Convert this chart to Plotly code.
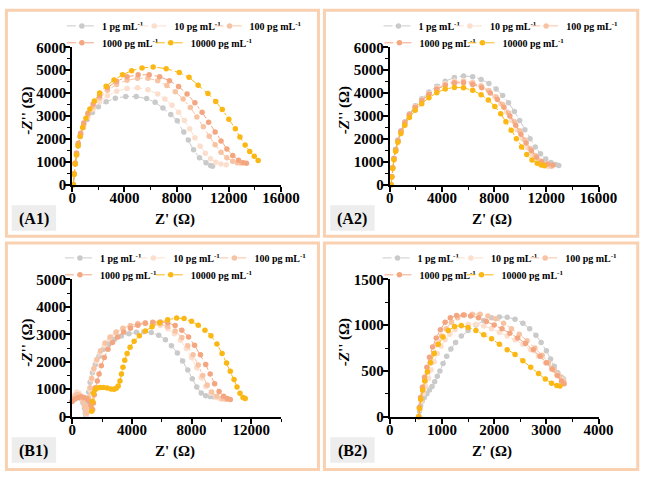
import plotly.graph_objects as go

W, H = 661, 481

SERIES_LABELS = ["1 pg mL<sup>-1</sup>", "10 pg mL<sup>-1</sup>", "100 pg mL<sup>-1</sup>",
                 "1000 pg mL<sup>-1</sup>", "10000 pg mL<sup>-1</sup>"]
SERIES_COLORS = ["#cacaca", "#fcdecd", "#f8c3a3", "#f4a680", "#fbb714"]

# ---------------- Panel A1 ----------------
A1_1_X = [80, 140, 220, 320, 450, 620, 850, 1150, 1550, 2000, 2600, 3300, 4100, 4900, 5700, 6350, 6950, 7550, 8050, 8550, 8900, 9300, 9750, 10250, 10600, 10750]
A1_1_Y = [0, 450, 900, 1300, 1700, 2100, 2500, 2850, 3150, 3400, 3620, 3780, 3850, 3850, 3760, 3600, 3350, 3070, 2790, 2300, 1950, 1520, 1180, 960, 840, 800]
A1_10_X = [80, 140, 225, 330, 460, 640, 880, 1200, 1600, 2100, 2700, 3400, 4200, 5000, 5800, 6550, 7100, 7650, 8150, 8600, 9000, 9400, 9800, 10200, 10600, 11000, 11400, 11800]
A1_10_Y = [0, 450, 900, 1320, 1730, 2150, 2560, 2950, 3300, 3620, 3880, 4080, 4200, 4230, 4150, 3960, 3740, 3470, 3160, 2800, 2440, 2050, 1680, 1370, 1130, 980, 900, 870]
A1_100_X = [80, 140, 225, 330, 460, 640, 880, 1200, 1600, 2100, 2700, 3400, 4200, 5000, 5800, 6550, 7250, 7900, 8500, 9050, 9550, 10050, 10500, 10950, 11400, 11850, 12300, 12650, 12900]
A1_100_Y = [0, 460, 920, 1350, 1770, 2200, 2630, 3050, 3430, 3800, 4120, 4380, 4560, 4650, 4650, 4540, 4330, 4060, 3740, 3370, 2960, 2530, 2110, 1740, 1410, 1170, 1020, 960, 950]
A1_1000_X = [80, 140, 225, 330, 460, 640, 880, 1200, 1600, 2100, 2700, 3400, 4200, 5050, 5900, 6700, 7450, 8150, 8800, 9400, 9950, 10450, 10950, 11400, 11850, 12300, 12750, 13100, 13350]
A1_1000_Y = [0, 470, 940, 1380, 1810, 2250, 2690, 3120, 3520, 3900, 4240, 4520, 4710, 4800, 4800, 4720, 4540, 4290, 3960, 3580, 3160, 2730, 2300, 1910, 1560, 1270, 1060, 960, 930]
A1_10000_X = [80, 150, 230, 330, 450, 600, 800, 1050, 1350, 1700, 2100, 2600, 3200, 3850, 4550, 5350, 6200, 7200, 8200, 8950, 9650, 10400, 11000, 11500, 12000, 12500, 12850, 13250, 13600, 13950, 14250]
A1_10000_Y = [0, 450, 900, 1300, 1700, 2100, 2500, 2900, 3300, 3650, 4000, 4300, 4570, 4800, 4980, 5100, 5140, 5070, 4900, 4690, 4340, 3980, 3630, 3280, 2860, 2440, 2080, 1730, 1450, 1240, 1050]

# ---------------- Panel A2 ----------------
A2_1_X = [100, 150, 220, 320, 450, 620, 850, 1150, 1500, 1950, 2450, 3000, 3600, 4250, 4950, 5650, 6350, 7000, 7600, 8150, 8650, 9100, 9550, 9950, 10350, 10750, 11150, 11550, 11950, 12350, 12700, 12950]
A2_1_Y = [0, 350, 750, 1150, 1550, 1950, 2350, 2750, 3100, 3450, 3750, 4050, 4300, 4520, 4680, 4750, 4720, 4600, 4420, 4180, 3900, 3580, 3200, 2800, 2400, 2000, 1650, 1350, 1120, 970, 880, 840]
A2_10_X = [100, 150, 220, 320, 450, 620, 850, 1150, 1500, 1950, 2450, 3000, 3600, 4250, 4950, 5650, 6350, 7000, 7550, 8050, 8500, 8950, 9350, 9750, 10150, 10550, 10950, 11350, 11750, 12150]
A2_10_Y = [0, 340, 730, 1120, 1500, 1900, 2300, 2700, 3050, 3400, 3700, 3980, 4220, 4420, 4530, 4550, 4480, 4330, 4120, 3850, 3540, 3180, 2800, 2400, 2000, 1620, 1300, 1050, 880, 790]
A2_100_X = [100, 150, 220, 320, 450, 620, 850, 1150, 1500, 1950, 2450, 3000, 3600, 4250, 4950, 5650, 6350, 7000, 7600, 8150, 8650, 9100, 9550, 9950, 10350, 10750, 11150, 11550, 11950, 12400]
A2_100_Y = [0, 340, 730, 1120, 1500, 1900, 2300, 2680, 3030, 3370, 3670, 3950, 4180, 4370, 4480, 4500, 4440, 4300, 4100, 3830, 3500, 3130, 2750, 2350, 1950, 1580, 1270, 1030, 880, 800]
A2_1000_X = [100, 150, 220, 320, 450, 620, 850, 1150, 1500, 1950, 2450, 3000, 3600, 4250, 4950, 5650, 6350, 7050, 7700, 8250, 8750, 9200, 9650, 10050, 10450, 10850, 11250, 11650, 12100, 12500]
A2_1000_Y = [0, 340, 740, 1140, 1520, 1920, 2320, 2700, 3050, 3380, 3680, 3950, 4170, 4340, 4440, 4450, 4380, 4230, 4000, 3720, 3380, 3000, 2600, 2200, 1820, 1480, 1200, 1000, 900, 860]
A2_10000_X = [100, 150, 220, 320, 450, 620, 850, 1150, 1500, 1950, 2450, 3000, 3600, 4250, 4950, 5650, 6350, 7000, 7550, 8050, 8500, 8900, 9300, 9700, 10100, 10500, 10900, 11300, 11600, 11850]
A2_10000_Y = [0, 330, 710, 1090, 1460, 1850, 2230, 2590, 2930, 3250, 3540, 3800, 4020, 4180, 4250, 4230, 4120, 3930, 3700, 3420, 3100, 2750, 2380, 2000, 1640, 1320, 1080, 930, 860, 830]

# ---------------- Panel B1 ----------------
B1_1_X = [0, 150, 300, 450, 600, 720, 820, 880, 920, 960, 1020, 1100, 1200, 1350, 1550, 1800, 2100, 2450, 2850, 3300, 3800, 4300, 4800, 5300, 5800, 6250, 6650, 7050, 7400, 7750, 8050, 8350, 8650, 8950, 9250, 9450]
B1_1_Y = [560, 680, 760, 740, 650, 500, 300, 120, 40, 200, 550, 900, 1250, 1600, 1900, 2200, 2450, 2650, 2820, 2940, 3020, 3070, 3090, 3060, 2960, 2800, 2580, 2320, 2030, 1700, 1380, 1080, 860, 760, 730, 720]
B1_10_X = [0, 150, 300, 450, 600, 720, 820, 900, 960, 1010, 1080, 1170, 1280, 1430, 1620, 1850, 2150, 2500, 2900, 3400, 3900, 4400, 4900, 5400, 5900, 6400, 6850, 7250, 7650, 8000, 8350, 8650, 8950, 9300, 9650, 9950, 10200]
B1_10_Y = [600, 780, 900, 860, 760, 600, 380, 180, 90, 300, 650, 1000, 1350, 1700, 2020, 2320, 2600, 2850, 3050, 3200, 3300, 3360, 3390, 3380, 3320, 3200, 3020, 2780, 2480, 2150, 1780, 1420, 1100, 850, 700, 640, 620]
B1_100_X = [0, 150, 300, 450, 600, 730, 830, 910, 970, 1030, 1100, 1190, 1300, 1450, 1650, 1900, 2200, 2550, 2950, 3400, 3900, 4400, 4900, 5400, 5900, 6400, 6900, 7350, 7750, 8100, 8450, 8750, 9050, 9350, 9700, 10050, 10350]
B1_100_Y = [560, 700, 800, 790, 700, 560, 380, 200, 120, 350, 700, 1050, 1400, 1750, 2080, 2400, 2680, 2900, 3080, 3220, 3320, 3390, 3420, 3420, 3380, 3280, 3120, 2880, 2580, 2250, 1880, 1500, 1150, 900, 740, 660, 630]
B1_1000_X = [0, 200, 400, 600, 800, 1000, 1150, 1250, 1320, 1370, 1420, 1480, 1560, 1680, 1800, 1950, 2150, 2400, 2700, 3050, 3450, 3900, 4400, 4900, 5400, 5900, 6400, 6900, 7350, 7800, 8200, 8600, 8950, 9250, 9550, 9850, 10150, 10400, 10600]
B1_1000_Y = [560, 640, 700, 720, 700, 640, 560, 420, 280, 250, 500, 800, 1050, 1300, 1550, 1850, 2150, 2450, 2700, 2900, 3080, 3220, 3330, 3400, 3440, 3450, 3420, 3320, 3150, 2900, 2600, 2250, 1900, 1550, 1200, 920, 740, 660, 620]
B1_10000_X = [1300, 1360, 1420, 1520, 1680, 1880, 2100, 2350, 2600, 2800, 2950, 3080, 3200, 3300, 3400, 3520, 3680, 3880, 4150, 4500, 4900, 5350, 5850, 6400, 7000, 7500, 8000, 8450, 8900, 9300, 9700, 10050, 10350, 10600, 10850, 11050, 11250, 11450, 11600]
B1_10000_Y = [200, 550, 850, 980, 1040, 1060, 1060, 1040, 1010, 1000, 1030, 1120, 1300, 1550, 1800, 2050, 2300, 2530, 2750, 2950, 3120, 3270, 3420, 3530, 3590, 3570, 3470, 3330, 3150, 2950, 2650, 2300, 1950, 1650, 1350, 1080, 850, 700, 660]

# ---------------- Panel B2 ----------------
B2_1_X = [560, 570, 590, 620, 660, 710, 760, 810, 860, 910, 960, 1020, 1090, 1170, 1260, 1370, 1500, 1650, 1800, 1950, 2100, 2250, 2400, 2550, 2680, 2800, 2900, 3000, 3080, 3150, 3220, 3290, 3330]
B2_1_Y = [0, 60, 120, 170, 210, 250, 290, 330, 380, 440, 500, 580, 660, 740, 810, 880, 940, 1000, 1050, 1080, 1090, 1085, 1065, 1020, 960, 890, 810, 720, 630, 550, 480, 430, 410]
B2_10_X = [560, 575, 600, 640, 690, 740, 790, 850, 910, 980, 1060, 1150, 1250, 1370, 1500, 1650, 1800, 1950, 2100, 2250, 2400, 2550, 2700, 2850, 2980, 3100, 3200, 3290, 3330]
B2_10_Y = [0, 80, 170, 250, 330, 420, 510, 600, 690, 770, 840, 900, 950, 990, 1010, 1010, 990, 960, 920, 880, 840, 790, 730, 660, 590, 520, 460, 410, 395]
B2_100_X = [555, 570, 595, 630, 675, 725, 780, 840, 910, 990, 1080, 1180, 1300, 1430, 1580, 1730, 1880, 2030, 2180, 2330, 2480, 2630, 2780, 2920, 3040, 3150, 3250, 3330]
B2_100_Y = [0, 90, 190, 290, 390, 490, 590, 690, 790, 880, 960, 1030, 1080, 1110, 1120, 1120, 1100, 1070, 1020, 960, 900, 830, 750, 670, 590, 510, 440, 385]
B2_1000_X = [550, 565, 590, 625, 665, 710, 760, 820, 890, 970, 1060, 1160, 1280, 1410, 1550, 1700, 1850, 2000, 2150, 2300, 2450, 2600, 2750, 2880, 3000, 3110, 3210, 3290, 3340]
B2_1000_Y = [0, 100, 210, 320, 430, 540, 650, 760, 860, 950, 1030, 1080, 1105, 1110, 1100, 1080, 1040, 1000, 960, 910, 860, 800, 730, 660, 590, 520, 450, 390, 360]
B2_10000_X = [555, 570, 595, 630, 670, 720, 780, 850, 930, 1020, 1120, 1240, 1370, 1500, 1650, 1800, 1950, 2100, 2250, 2400, 2550, 2700, 2850, 2980, 3100, 3200, 3260]
B2_10000_Y = [0, 90, 190, 290, 390, 490, 590, 690, 790, 870, 940, 985, 995, 975, 940, 895, 850, 790, 730, 680, 610, 540, 470, 410, 365, 340, 335]

# axis ranges
A_X_RANGE = [0, 16000]
A_Y_RANGE = [0, 6000]
B1_X_RANGE = [0, 14000]
B1_Y_RANGE = [0, 5000]
B2_X_RANGE = [0, 4000]
B2_Y_RANGE = [0, 1500]

PANELS = [
    dict(name="A1", data=[(A1_1_X, A1_1_Y), (A1_10_X, A1_10_Y), (A1_100_X, A1_100_Y), (A1_1000_X, A1_1000_Y), (A1_10000_X, A1_10000_Y)],
         xr=A_X_RANGE, yr=A_Y_RANGE, xd=4000, yd=1000, ox=0, oy=0,
         leg_x=[100, 175, 253, 100, 192]),
    dict(name="A2", data=[(A2_1_X, A2_1_Y), (A2_10_X, A2_10_Y), (A2_100_X, A2_100_Y), (A2_1000_X, A2_1000_Y), (A2_10000_X, A2_10000_Y)],
         xr=A_X_RANGE, yr=A_Y_RANGE, xd=4000, yd=1000, ox=329, oy=0,
         leg_x=[98, 172, 251, 99, 185]),
    dict(name="B1", data=[(B1_1_X, B1_1_Y), (B1_10_X, B1_10_Y), (B1_100_X, B1_100_Y), (B1_1000_X, B1_1000_Y), (B1_10000_X, B1_10000_Y)],
         xr=B1_X_RANGE, yr=B1_Y_RANGE, xd=4000, yd=1000, ox=0, oy=240,
         leg_x=[98, 174, 258, 98, 192]),
    dict(name="B2", data=[(B2_1_X, B2_1_Y), (B2_10_X, B2_10_Y), (B2_100_X, B2_100_Y), (B2_1000_X, B2_1000_Y), (B2_10000_X, B2_10000_Y)],
         xr=B2_X_RANGE, yr=B2_Y_RANGE, xd=1000, yd=500, ox=329, oy=240,
         leg_x=[97, 173, 250, 99, 184]),
]
LEG_ROW_Y = [20.5, 20.5, 20.5, 38, 38]


def px(x):
    return x / W


def py(y):
    return 1 - y / H


FONT = "Liberation Serif"
LEG_Y_SHIFT = -2
fig = go.Figure()
layout = dict(width=W, height=H, margin=dict(l=0, r=0, t=0, b=0),
              paper_bgcolor="white", plot_bgcolor="white", showlegend=True)
shapes = []
annotations = []
leg_counter = 0

for i, p in enumerate(PANELS):
    n = i + 1
    xa = "x" if n == 1 else f"x{n}"
    ya = "y" if n == 1 else f"y{n}"
    xkey = "xaxis" if n == 1 else f"xaxis{n}"
    ykey = "yaxis" if n == 1 else f"yaxis{n}"
    ox, oy = p["ox"], p["oy"]
    for k, (xs, ys) in enumerate(p["data"]):
        leg_counter += 1
        leg = "legend" if leg_counter == 1 else f"legend{leg_counter}"
        fig.add_trace(go.Scatter(
            x=xs, y=ys, xaxis=xa, yaxis=ya, mode="lines+markers",
            name=SERIES_LABELS[k],
            line=dict(color=SERIES_COLORS[k], width=1, dash="dashdot"),
            marker=dict(color=SERIES_COLORS[k], size=5.5, symbol="circle"),
            legend=leg, cliponaxis=False,
        ))
        layout[leg] = dict(orientation="h", x=px(ox + (1 if ox else 0) + p["leg_x"][k] - 40),
                           y=py(oy + LEG_ROW_Y[k] + LEG_Y_SHIFT),
                           xanchor="left", yanchor="middle",
                           font=dict(family=FONT, size=10, color="black", weight="bold"),
                           bgcolor="rgba(0,0,0,0)", itemwidth=30)
    common = dict(showline=True, linecolor="black", linewidth=2, ticks="outside", ticklen=5,
                  tickwidth=1.5, tickcolor="black", showgrid=False, zeroline=False,
                  tickfont=dict(family=FONT, size=15, color="black", weight="bold"),
                  tickformat="d", fixedrange=True)
    layout[xkey] = dict(common, domain=[px(ox + 70.7), px(ox + 287)], range=p["xr"], anchor=ya,
                        tick0=0, dtick=p["xd"], ticklabelstandoff=-7,
                        minor=dict(ticks="outside", ticklen=3, tickwidth=1.2, tickcolor="black", dtick=p["xd"] / 2))
    layout[ykey] = dict(common, domain=[py(oy + 182.7), py(oy + 40.7)], range=p["yr"], anchor=xa,
                        tick0=0, dtick=p["yd"], ticklabelstandoff=-4,
                        minor=dict(ticks="outside", ticklen=3, tickwidth=1.2, tickcolor="black", dtick=p["yd"] / 2))
    # panel border
    x0 = 2.5 if ox == 0 else 332
    x1 = 325.8 if ox == 0 else 656.6
    y0 = 2.2 if oy == 0 else 243
    y1 = 236 if oy == 0 else 477.5
    shapes.append(dict(type="rect", xref="paper", yref="paper", x0=px(x0), x1=px(x1), y0=py(y1), y1=py(y0),
                       line=dict(color="#f9d1b1", width=3), fillcolor="rgba(0,0,0,0)", layer="below"))
    # label box
    bx = 8 if ox == 0 else 338
    shapes.append(dict(type="rect", xref="paper", yref="paper", x0=px(bx), x1=px(bx + 46),
                       y0=py(oy + 230.5), y1=py(oy + 204), line=dict(width=0), fillcolor="#ededed", layer="below"))
    annotations.append(dict(text=f"({p['name']})", xref="paper", yref="paper", x=px(bx + 23), y=py(oy + 218),
                            showarrow=False, xanchor="center", yanchor="middle",
                            font=dict(family=FONT, size=16, color="black", weight="bold")))
    annotations.append(dict(text="Z' (Ω)", xref="paper", yref="paper", x=px(ox + 177), y=py(oy + 219),
                            showarrow=False, xanchor="center", yanchor="middle",
                            font=dict(family=FONT, size=15, color="black", weight="bold")))
    annotations.append(dict(text="-<i>Z</i>'' (Ω)", xref="paper", yref="paper", x=px(ox + 24), y=py(oy + 106),
                            showarrow=False, xanchor="center", yanchor="middle", textangle=-90,
                            font=dict(family=FONT, size=15, color="black", weight="bold")))

layout["shapes"] = shapes
layout["annotations"] = annotations
fig.update_layout(**layout)
fig.write_html("out.html", config={"displayModeBar": False},
               post_script="document.body.style.margin='0px';")
